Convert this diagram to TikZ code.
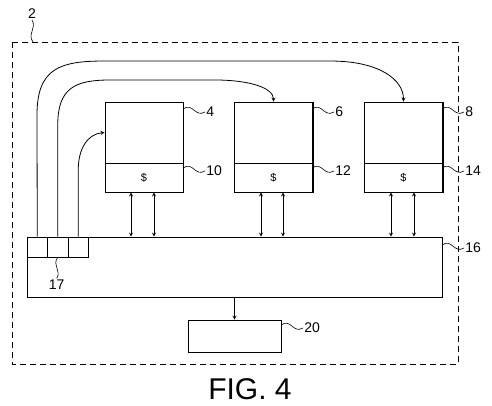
\documentclass[tikz,border=0pt]{standalone}
\usepackage{fontspec}
\setmainfont{Liberation Sans}
\usepackage{tikz}

\begin{document}
\begin{tikzpicture}[x=1pt,y=-1pt,line width=0.8pt,>=stealth]
        \tikzstyle{every node} = [inner sep=0pt]
        \tikzstyle{blk} = [draw, minimum width=78pt]
        \tikzstyle{lbl} = [font=\fontsize{14}{14}\selectfont, anchor=west, inner sep=1pt]
        \useasboundingbox (0,0) rectangle (492,405);
        % outer dashed frame 2
        \draw[line width=0.7pt, dash pattern=on 6pt off 4pt] (12,42) rectangle (458,364);
        % processors with caches
        \foreach \c/\m/\x in {cpu4/cache10/144, cpu6/cache12/273.5, cpu8/cache14/403.5} {
            \node[blk, minimum height=61pt] (\c) at (\x,132.5) {};
            \node[blk, minimum height=29pt, font=\fontsize{11}{11}\selectfont] (\m) at (\x,177.5) {\$};
            \draw[line width=1.4pt] (\c.north east) -- (\m.south east) -- (\m.south west);
        }
        \node[draw, minimum width=415pt, minimum height=60pt] (bus16) at (234.5,267) {};
        \draw[line width=1.4pt] (bus16.north east) -- (bus16.south east) -- (bus16.south west);
        \foreach \n/\x in {a/37.25, b/57.75, c/78.25}
            \node[draw, minimum width=20.5pt, minimum height=20pt] (cell\n) at (\x,247) {};
        \node[draw, minimum width=93pt, minimum height=32pt] (disp20) at (234.5,336) {};
        \draw[line width=1.4pt] (disp20.north east) -- (disp20.south east) -- (disp20.south west);
        % cache <-> bus
        \foreach \m/\x in {cache10/131, cache10/154, cache12/261, cache12/283, cache14/391, cache14/414}
            \draw[<->] (\x,0 |- \m.south) -- (\x,0 |- bus16.north);
        \draw[->] (bus16.south) -- (disp20.north);
        % lines from the cells
        \draw[->] (cella.north) -- (37,115) .. controls (37,68) and (60,61) .. (105,61)
            -- (330,61) .. controls (380,61) and (403.5,80) .. (cpu8.north);
        \draw[->] (cellb.north) -- (57.75,125) .. controls (57.75,88) and (75,80) .. (110,80)
            -- (215,80) .. controls (250,80) and (273.5,88) .. (cpu6.north);
        \draw[->] (cellc.north) -- (78.25,170) .. controls (78.25,148) and (88,134) .. (cpu4.west);
        % reference numerals
        \foreach \n/\x/\y in {4/183/109, 10/183/168, 6/312/109, 12/312/168, 8/442/109, 14/442/168, 16/442/245, 20/281/325}
            \draw[line width=0.6pt] (\x,\y) .. controls +(10,-7) and +(-10,6) .. ++(22,3) node[lbl] (l\n) {\n};
        \draw[line width=0.6pt] (cellb.south) .. controls +(-6,8) and +(5,-8) .. ++(-1,21) node[lbl, anchor=north] (l17) {17};
        \draw[line width=0.6pt] (33,42) .. controls +(-6,-8) and +(5,8) .. ++(-1,-22) node[lbl, anchor=south] (l2) {2};
        \node[font=\fontsize{30}{30}\selectfont] (fig) at (250,389) {FIG. 4};
    \end{tikzpicture}
\end{document}
